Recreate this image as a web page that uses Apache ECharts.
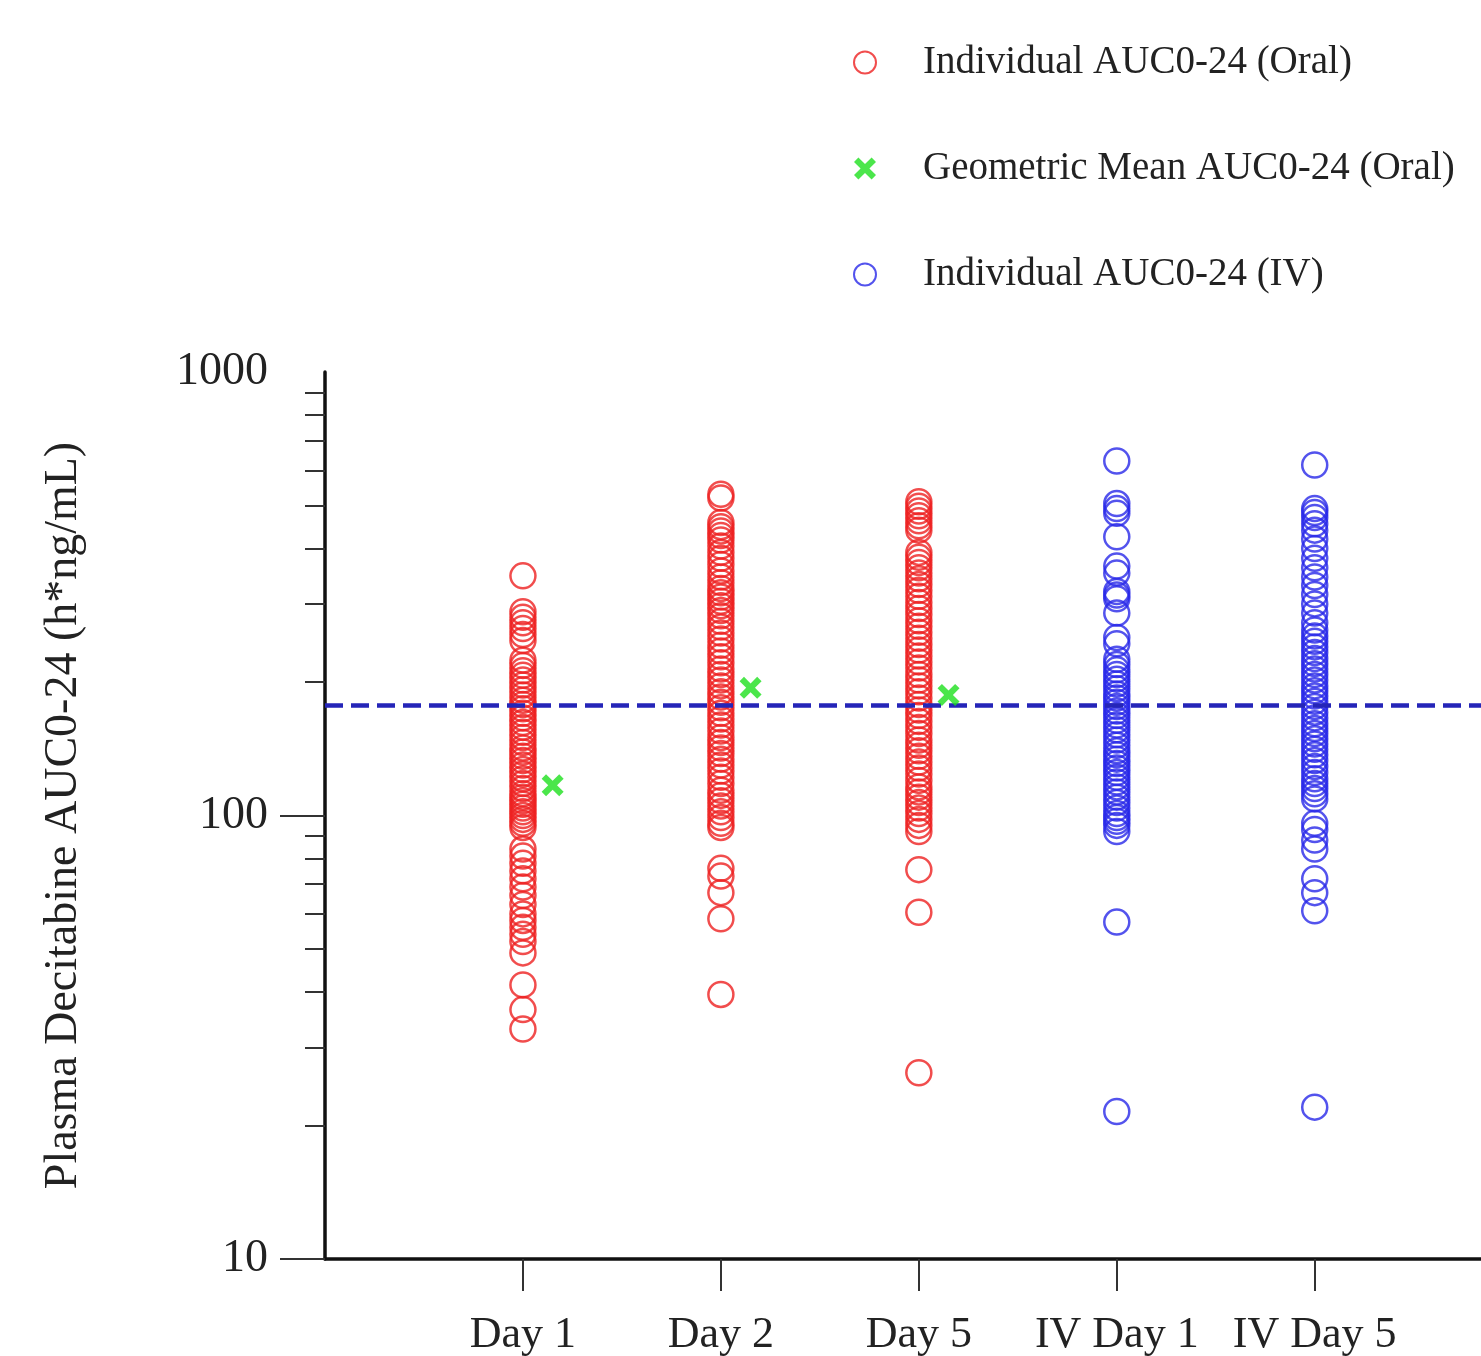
<!DOCTYPE html>
<html>
<head>
<meta charset="utf-8">
<script src="https://cdn.jsdelivr.net/npm/echarts@6/dist/echarts.min.js"></script>
<style>
  html, body { margin: 0; padding: 0; background: #fff; }
  #chart { width: 1481px; height: 1356px; }
</style>
</head>
<body>
<div id="chart"></div>
<script>
// categories on the x axis (placed at x = 1..5)
const days = ['Day 1', 'Day 2', 'Day 5', 'IV Day 1', 'IV Day 5']

// individual AUC0-24 values
const oralDay1 = [347, 288, 280, 272, 264, 256, 248,
    224, 218, 212, 207, 202, 197, 192, 187, 182, 178, 174, 170, 166, 162, 158, 154, 150, 146, 142, 139, 136, 133, 130, 127, 124, 121, 118, 115, 112, 110, 108, 106, 104, 102, 100, 98, 96, 94,
    84, 81, 78, 75, 72, 69, 66, 63, 60, 58, 56, 54, 52,
    49, 41.5, 36.5, 33]
const oralDay2 = [530, 520, 458, 448, 438, 428, 418, 405, 392, 380, 368, 356, 345, 335, 325, 318, 311, 304, 297, 290, 282, 274, 266, 258, 250, 242, 235, 228, 221, 214, 208, 202, 196, 190, 185, 180, 175, 170, 165, 160, 155, 150, 146, 142, 138, 134, 130, 126, 122, 118, 114, 111, 108, 105, 102, 99, 96, 94,
    76, 73, 67, 58.5, 39.5]
const oralDay5 = [510, 498, 486, 474, 462, 450, 440, 392, 382, 372, 362, 352, 342, 332, 322, 312, 302, 293, 284, 275, 267, 259, 251, 243, 236, 229, 222, 215, 208, 202, 196, 190, 184, 178, 173, 168, 163, 158, 153, 148, 144, 140, 136, 132, 128, 124, 120, 116, 113, 110, 107, 104, 101, 98, 95, 92,
    75.5, 60.5, 26.3]
const ivDay1 = [630, 505, 492, 480, 425, 365, 352, 320, 314, 308, 286, 252, 244,
    225, 219, 213, 208, 203, 198, 193, 188, 184, 180, 176, 172, 168, 164, 160, 156, 152, 148, 144, 140, 137, 134, 131, 128, 125, 122, 119, 116, 113, 110, 107, 104, 101, 99, 97, 95, 92,
    57.5, 21.5]
const ivDay5 = [617, 492, 482, 470, 455, 440, 420, 400, 380, 362, 345, 330, 315, 300, 286,
    272, 262, 254, 247, 240, 233, 226, 220, 214, 208, 202, 196, 191, 186, 181, 176, 171, 166, 161, 157, 153, 149, 145, 141, 137, 133, 129, 125, 121, 118, 115, 112, 109,
    96, 93, 88, 84, 72, 67, 61, 22]

// geometric means (oral) for Day 1, Day 2, Day 5
const geoMean = [117, 194, 187]
const meanOffset = 0.15

// dashed reference line
const refLevel = 177

// axis ticks
const yMajor = [10, 100]
const yLabels = [10, 100, 1000]
const yMinor = [20, 30, 40, 50, 60, 70, 80, 90, 200, 300, 400, 500, 600, 700, 800, 900]
const xTicks = [1, 2, 3, 4, 5]

const RED = '#ee2020'
const BLUE = '#2828e8'
const GREEN = '#1ee01e'
const FONT = 'Liberation Serif'
const xPath = 'path://M0,2 L2,0 L5,3 L8,0 L10,2 L7,5 L10,8 L8,10 L5,7 L2,10 L0,8 L3,5 Z'

const toPoints = (vals, x) => vals.map(v => [x, v])

const oralData = [].concat(
    toPoints(oralDay1, 1),
    toPoints(oralDay2, 2),
    toPoints(oralDay5, 3)
)
const ivData = [].concat(toPoints(ivDay1, 4), toPoints(ivDay5, 5))
const meanData = geoMean.map((v, i) => [i + 1 + meanOffset, v])

const myChart = echarts.init(document.getElementById('chart'))
myChart.setOption({
    animation: false,
    backgroundColor: '#fff',
    textStyle: { fontFamily: FONT },
    grid: {
        left: 325,
        top: 372,
        right: 0,
        bottom: 97,
        containLabel: false,
        outerBoundsMode: 'none'
    },
    legend: {
        orient: 'vertical',
        left: 853,
        top: 43,
        padding: 0,
        itemWidth: 22,
        itemHeight: 22,
        itemGap: 67,
        selectedMode: false,
        textStyle: {
            fontFamily: FONT,
            fontSize: 39,
            color: '#222',
            padding: [0, 0, 0, 42]
        },
        data: ['Individual AUC0-24 (Oral)', 'Geometric Mean AUC0-24 (Oral)', 'Individual AUC0-24 (IV)']
    },
    xAxis: {
        type: 'value',
        min: 0,
        max: 5.84,
        splitLine: { show: false },
        axisLine: { lineStyle: { color: '#111', width: 3.5 } },
        axisTick: {
            customValues: xTicks,
            length: 32,
            lineStyle: { color: '#333', width: 2 }
        },
        axisLabel: {
            customValues: xTicks,
            formatter: v => days[Math.round(v) - 1],
            fontFamily: FONT,
            fontSize: 44,
            color: '#222',
            margin: 54
        }
    },
    yAxis: [
        {
            type: 'log',
            logBase: 10,
            min: 10,
            max: 1000,
            name: 'Plasma Decitabine AUC0-24 (h*ng/mL)',
            nameLocation: 'middle',
            nameGap: 238,
            nameTextStyle: { fontFamily: FONT, fontSize: 46, color: '#222' },
            splitLine: { show: false },
            axisLine: { show: true, lineStyle: { color: '#111', width: 3.5 } },
            axisTick: {
                customValues: yMajor,
                length: 45,
                lineStyle: { color: '#333', width: 2 }
            },
            axisLabel: {
                customValues: yLabels,
                formatter: v => String(v),
                fontFamily: FONT,
                fontSize: 46,
                color: '#222',
                margin: 57
            }
        },
        {
            // minor ticks only
            type: 'log',
            logBase: 10,
            min: 10,
            max: 1000,
            position: 'left',
            splitLine: { show: false },
            axisLine: { show: false },
            axisLabel: { show: false },
            axisTick: {
                show: true,
                customValues: yMinor,
                length: 20,
                lineStyle: { color: '#333', width: 2 }
            }
        }
    ],
    series: [
        {
            name: 'Individual AUC0-24 (IV)',
            type: 'scatter',
            symbol: 'circle',
            symbolSize: 25,
            data: ivData,
            itemStyle: { color: 'rgba(0,0,0,0)', borderColor: BLUE, borderWidth: 2.5 },
            emphasis: { disabled: true },
            markLine: {
                silent: true,
                symbol: 'none',
                label: { show: false },
                lineStyle: { color: '#2525b8', width: 4.5, type: [18, 8] },
                data: [{ yAxis: refLevel }]
            }
        },
        {
            name: 'Individual AUC0-24 (Oral)',
            type: 'scatter',
            symbol: 'circle',
            symbolSize: 25,
            data: oralData,
            itemStyle: { color: 'rgba(0,0,0,0)', borderColor: RED, borderWidth: 2.5 },
            emphasis: { disabled: true }
        },
        {
            name: 'Geometric Mean AUC0-24 (Oral)',
            type: 'scatter',
            symbol: xPath,
            symbolSize: 22,
            data: meanData,
            itemStyle: { color: GREEN },
            emphasis: { disabled: true },
            z: 5
        }
    ]
})
window.addEventListener('resize', () => {
    myChart.resize()
})
</script>
</body>
</html>
